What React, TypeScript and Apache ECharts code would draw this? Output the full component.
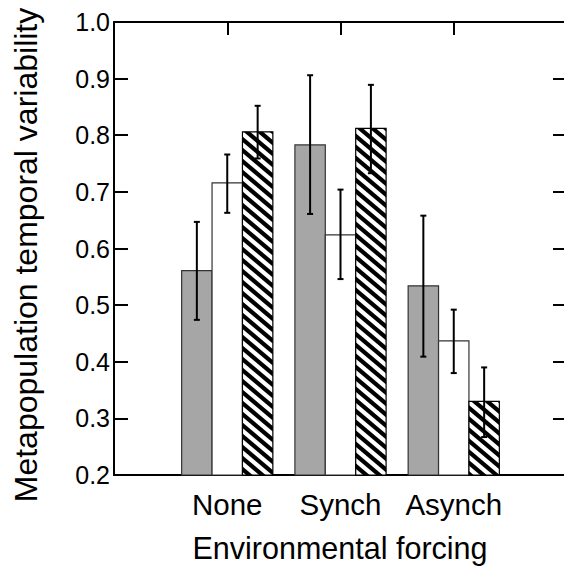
import React, { useEffect, useRef } from "react";
import * as echarts from "echarts";

const categories = ["None", "Synch", "Asynch"];
const yTitle = "Metapopulation temporal variability";
const xTitle = "Environmental forcing";

// gray (solid) bars
const grayMean = [0.561, 0.783, 0.534];
const grayLow = [0.474, 0.661, 0.409];
const grayHigh = [0.647, 0.906, 0.658];
// white (open) bars
const whiteMean = [0.716, 0.624, 0.437];
const whiteLow = [0.663, 0.546, 0.38];
const whiteHigh = [0.766, 0.704, 0.492];
// hatched bars
const hatchMean = [0.806, 0.812, 0.33];
const hatchLow = [0.759, 0.733, 0.267];
const hatchHigh = [0.852, 0.889, 0.39];

const FONT = '"Liberation Sans", Arial, Helvetica, sans-serif';
const BAR_W = 30.4;

function makeHatch(): HTMLCanvasElement {
  const W = 13;
  const H = 11;
  const c = document.createElement("canvas");
  c.width = W;
  c.height = H;
  const ctx = c.getContext("2d")!;
  ctx.fillStyle = "#ffffff";
  ctx.fillRect(0, 0, W, H);
  ctx.strokeStyle = "#000000";
  ctx.lineWidth = 4.2;
  for (let k = -1; k <= 1; k++) {
    ctx.beginPath();
    ctx.moveTo(k * W - W * 0.3, -H * 0.3);
    ctx.lineTo(k * W + W * 1.3, H * 1.3);
    ctx.stroke();
  }
  return c;
}

function buildData(mean: number[], low: number[], high: number[]) {
  return mean.map((m, i) => [i + 1, m, low[i], high[i]]);
}

function makeSeries(name: string, data: number[][], offset: number, fill: any, stroke: string) {
  return {
    type: "custom",
    name,
    coordinateSystem: "cartesian2d",
    xAxisIndex: 0,
    yAxisIndex: 0,
    clip: false,
    encode: { x: 0, y: 1 },
    data,
    renderItem: (params: any, api: any) => {
      const x = api.value(0);
      const m = api.value(1);
      const lo = api.value(2);
      const hi = api.value(3);
      const base = api.coord([x, 0.2]);
      const top = api.coord([x, m]);
      const pLo = api.coord([x, lo]);
      const pHi = api.coord([x, hi]);
      const cx = base[0] + offset * BAR_W;
      const cap = 3;
      return {
        type: "group",
        children: [
          {
            type: "rect",
            shape: { x: cx - BAR_W / 2, y: top[1], width: BAR_W, height: base[1] - top[1] },
            style: { fill, stroke, lineWidth: 1.2 },
          },
          {
            type: "line",
            shape: { x1: cx, y1: pLo[1], x2: cx, y2: pHi[1] },
            style: { stroke: "#000", lineWidth: 2 },
          },
          {
            type: "line",
            shape: { x1: cx - cap, y1: pLo[1], x2: cx + cap, y2: pLo[1] },
            style: { stroke: "#000", lineWidth: 2 },
          },
          {
            type: "line",
            shape: { x1: cx - cap, y1: pHi[1], x2: cx + cap, y2: pHi[1] },
            style: { stroke: "#000", lineWidth: 2 },
          },
        ],
      };
    },
  };
}

export default function App() {
  const ref = useRef<HTMLDivElement>(null);
  useEffect(() => {
    if (!ref.current) return;
    const chart = echarts.init(ref.current, undefined, { renderer: "svg" });
    const hatch = { image: makeHatch(), repeat: "repeat" };
    const axisLine = { show: true, onZero: false, lineStyle: { color: "#000", width: 2 } };
    const option: any = {
      animation: false,
      backgroundColor: "#ffffff",
      textStyle: { fontFamily: FONT },
      grid: { left: 114, top: 22, width: 453, height: 453, containLabel: false, outerBoundsMode: "none" },
      xAxis: [
        {
          type: "value",
          min: 0,
          max: 4,
          interval: 1,
          position: "bottom",
          axisLine,
          axisTick: { show: false },
          splitLine: { show: false },
          axisLabel: {
            fontSize: 29.5,
            color: "#000",
            fontFamily: FONT,
            margin: 14,
            showMinLabel: true,
            showMaxLabel: true,
            formatter: (v: number) => {
              const i = Math.round(v) - 1;
              return i >= 0 && i < categories.length ? categories[i] : "";
            },
          },
        },
        {
          type: "value",
          min: 0,
          max: 4,
          interval: 1,
          position: "top",
          axisLine,
          axisTick: { show: true, inside: true, length: 13, lineStyle: { color: "#000", width: 2 } },
          splitLine: { show: false },
          axisLabel: { show: false },
        },
      ],
      yAxis: [
        {
          type: "value",
          min: 0.2,
          max: 1.0,
          interval: 0.1,
          position: "left",
          axisLine,
          axisTick: { show: true, inside: true, length: 14, lineStyle: { color: "#000", width: 2 } },
          splitLine: { show: false },
          axisLabel: {
            fontSize: 25,
            color: "#000",
            fontFamily: FONT,
            margin: 4,
            showMinLabel: true,
            showMaxLabel: true,
            formatter: (v: number) => v.toFixed(1),
          },
        },
        {
          type: "value",
          min: 0.2,
          max: 1.0,
          interval: 0.1,
          position: "right",
          axisLine,
          axisTick: { show: true, inside: true, length: 14, lineStyle: { color: "#000", width: 2 } },
          splitLine: { show: false },
          axisLabel: { show: false },
        },
      ],
      graphic: [
        {
          type: "text",
          x: 26,
          y: 255,
          rotation: Math.PI / 2,
          style: {
            text: yTitle,
            font: `32px ${FONT}`,
            fill: "#000",
            align: "center",
            verticalAlign: "middle",
          },
        },
        {
          type: "text",
          x: 340,
          y: 548,
          style: {
            text: xTitle,
            font: `30.5px ${FONT}`,
            fill: "#000",
            align: "center",
            verticalAlign: "middle",
          },
        },
      ],
      series: [
        makeSeries("gray", buildData(grayMean, grayLow, grayHigh), -1, "#a6a6a6", "#333333"),
        makeSeries("white", buildData(whiteMean, whiteLow, whiteHigh), 0, "#ffffff", "#333333"),
        makeSeries("hatched", buildData(hatchMean, hatchLow, hatchHigh), 1, hatch, "#000000"),
      ],
    };
    chart.setOption(option);
    return () => chart.dispose();
  }, []);
  return (
    <div
      ref={ref}
      style={{ position: "fixed", left: 0, top: 0, width: 564, height: 567, background: "#fff" }}
    />
  );
}
